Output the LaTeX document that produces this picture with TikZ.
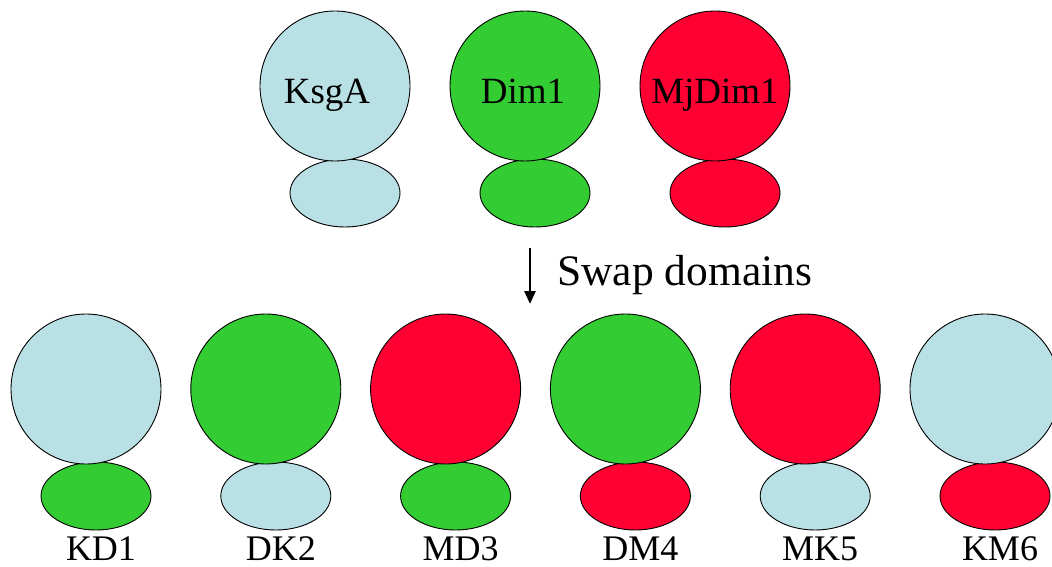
\documentclass[tikz,border=0pt]{standalone}
\usepackage{fontspec}
\setmainfont{Liberation Serif}
\usetikzlibrary{shapes.geometric,arrows.meta}
\definecolor{kblue}{RGB}{185,224,228}
\definecolor{dgreen}{RGB}{51,204,51}
\definecolor{mred}{RGB}{255,0,51}
\tikzset{
  bigdom/.style={circle,draw=black,line width=0.9pt,minimum size=150pt,inner sep=0pt},
  smalldom/.style={ellipse,draw=black,line width=0.9pt,minimum width=110pt,minimum height=68pt,inner sep=0pt},
  toplbl/.style={anchor=base,inner sep=0pt,font=\fontsize{37}{42}\selectfont},
  lbl/.style={anchor=base,inner sep=0pt,font=\fontsize{36}{40}\selectfont},
  swaplbl/.style={anchor=base west,inner sep=0pt,font=\fontsize{43.5}{48}\selectfont},
  swaparrow/.style={line width=2.6pt,-{Triangle[width=11pt,length=13pt]}}
}
\begin{document}
\begin{tikzpicture}[x=1pt,y=-1pt]
\useasboundingbox (0,0) rectangle (1052,567);
% top row
\node[smalldom,fill=kblue]  (ksgaS) at (345,193) {};
\node[smalldom,fill=dgreen] (dimS)  at (535,193) {};
\node[smalldom,fill=mred]   (mjS)   at (725,193) {};
\node[bigdom,fill=kblue]  (ksga) at (335,86) {};
\node[bigdom,fill=dgreen] (dim)  at (525,86) {};
\node[bigdom,fill=mred]   (mj)   at (715,86) {};
\node[toplbl] (ksgaL) at (327,104) {KsgA};
\node[toplbl] (dimL)  at (523,104) {Dim1};
\node[toplbl] (mjL)   at (715,104) {MjDim1};
% arrow
\coordinate (atop) at (530,248);
\coordinate (abot) at (530,304);
\draw[swaparrow] (atop) -- (abot);
\node[swaplbl] (swap) at (557,285) {Swap domains};
% bottom row
\foreach \i/\big/\small/\name in {0/kblue/dgreen/KD1,1/dgreen/kblue/DK2,2/mred/dgreen/MD3,3/dgreen/mred/DM4,4/mred/kblue/MK5,5/kblue/mred/KM6}{
  \pgfmathsetmacro{\cx}{86+179.8*\i}
  \node[smalldom,fill=\small] (s\i) at (\cx+10,496) {};
  \node[bigdom,fill=\big] (b\i) at (\cx,389) {};
  \node[lbl] (l\i) at (\cx+15,560) {\name};
}
\end{tikzpicture}
\end{document}
